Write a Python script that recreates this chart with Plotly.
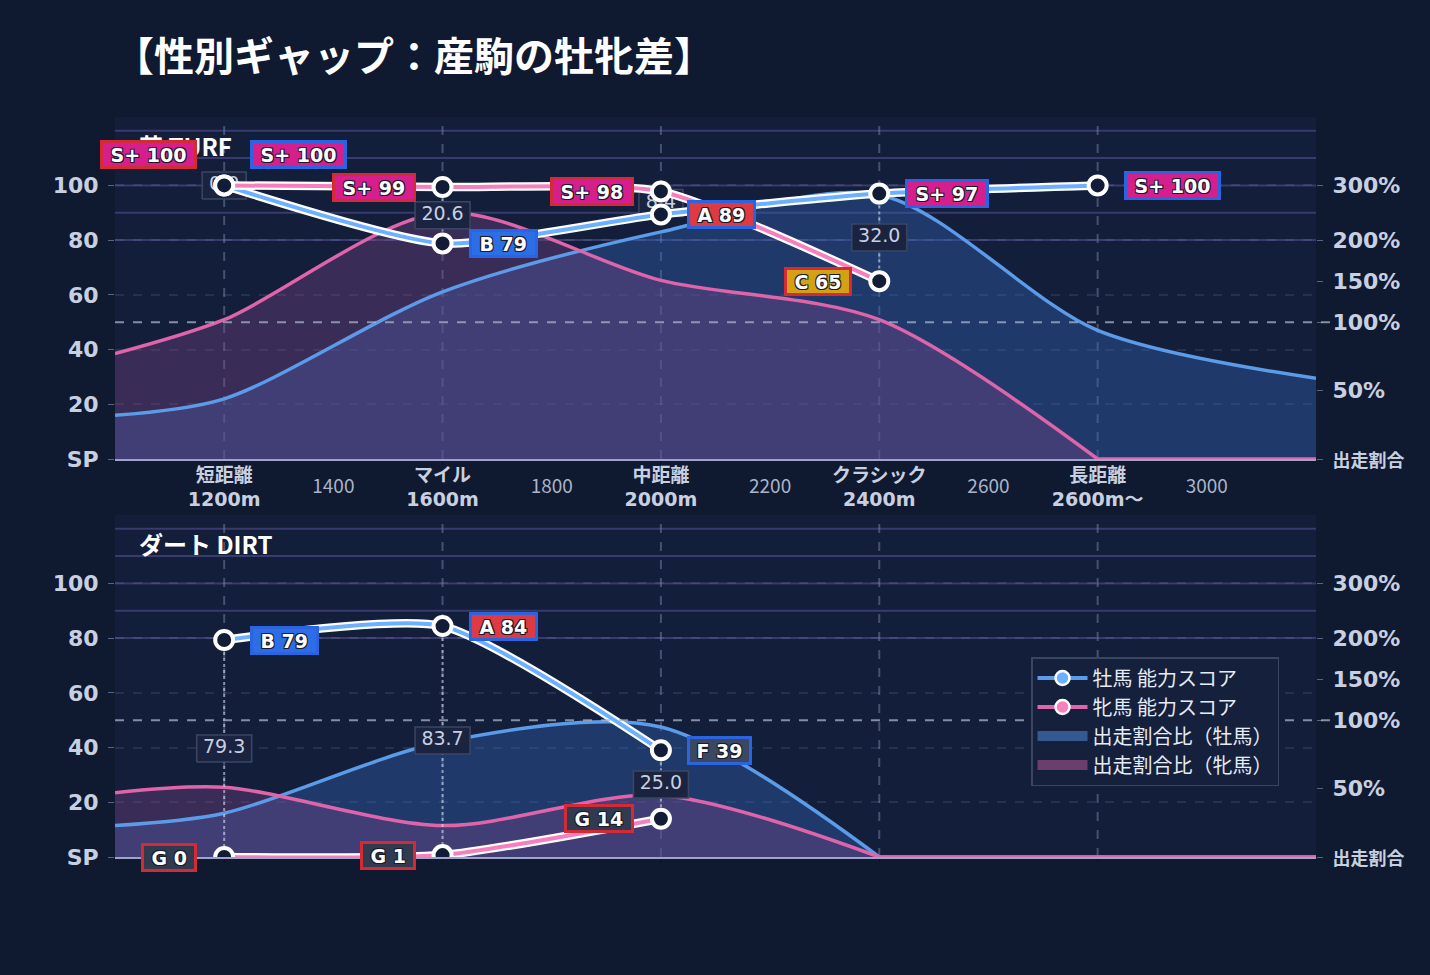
import numpy as np
import plotly.graph_objects as go

# ---------------- data ----------------
CATEGORIES = [1200, 1600, 2000, 2400, 2800]
CAT_NAMES = ["短距離", "マイル", "中距離", "クラシック", "長距離"]
CAT_DIST = ["1200m", "1600m", "2000m", "2400m", "2600m～"]
NUM_TICKS = [1400, 1800, 2200, 2600, 3000]

SHARE_X = [1000, 1200, 1600, 2000, 2400, 2800, 3200]
TURF_MALE_SHARE = [32, 44, 137, 215, 283, 94, 59]
TURF_FEMALE_SHARE = [77, 103, 250, 151, 103, 0, 0]
DIRT_MALE_SHARE = [23, 32, 84, 95, 0, 0, 0]
DIRT_FEMALE_SHARE = [47, 51, 23, 45, 0, 0, 0]

TURF_MALE_SCORE = [100.0, 78.8, 89.4, 97.0, 100.0]
TURF_FEMALE_SCORE = [100.0, 99.4, 97.8, 65.0, None]
DIRT_MALE_SCORE = [79.3, 84.4, 39.0, None, None]
DIRT_FEMALE_SCORE = [0.0, 0.7, 14.0, None, None]

SCORE_TICKS = [0, 20, 40, 60, 80, 100]
SCORE_TICK_TEXT = ["SP", "20", "40", "60", "80", "100"]
RATIO_TICKS = [0, 50, 100, 150, 200, 300]
RATIO_TICK_TEXT = ["出走割合", "50%", "100%", "150%", "200%", "300%"]
GRADE_LINES = [80, 90, 100, 110, 120]

TITLE = "【性別ギャップ：産駒の牡牝差】"
PANEL_TITLES = ["芝 TURF", "ダート DIRT"]
LEGEND_NAMES = ["牡馬 能力スコア", "牝馬 能力スコア", "出走割合比（牡馬）", "出走割合比（牝馬）"]

# ---------------- layout constants ----------------
W, H = 1430, 975
X_RANGE = [1000, 3200]
Y_RANGE = [0, 125]
PX_L, PX_R = 115, 1316
PANELS_PX = [(117, 459), (515, 857)]
UX = (X_RANGE[1] - X_RANGE[0]) / (PX_R - PX_L)
UY = (Y_RANGE[1] - Y_RANGE[0]) / (PANELS_PX[0][1] - PANELS_PX[0][0])

PAGE_BG = "#0f1930"
PLOT_BG = "#131e3a"
MALE_LINE = "#6cb0ff"
FEMALE_LINE = "#f77fbe"
MALE_AREA_LINE = "#5b9be8"
FEMALE_AREA_LINE = "#e064aa"
MALE_FILL = "rgba(50,100,180,0.40)"
FEMALE_FILL = "rgba(125,70,135,0.36)"
MALE_BORDER = "#2a64e0"
FEMALE_BORDER = "#d42a36"
GRADE_COLORS = {"S+": "#d41f8c", "S": "#b02cc0", "A": "#de3a44", "B": "#2c6ee6",
                 "C": "#d4a014", "D": "#8a8a30", "E": "#5a6a40", "F": "#3a4862", "G": "#303a50"}
TEXT_SHADOW = "-1px -1px 0 #1a1a2a, 1px -1px 0 #1a1a2a, -1px 1px 0 #1a1a2a, 1px 1px 0 #1a1a2a"
LATIN = "DejaVu Sans, Noto Sans CJK JP, sans-serif"
CJK = "Noto Sans CJK JP, sans-serif"


def ratio_to_axis(r):
    return float(np.interp(r, [0, 100, 200, 300], [0, 50, 80, 100]))


def grade(s):
    r = round(s)
    for th, g in [(95, "S+"), (90, "S"), (80, "A"), (70, "B"), (60, "C"), (50, "D"), (40, "E"), (30, "F")]:
        if r >= th:
            return g
    return "G"


CHAR_W = {"S": .72, "+": .838, " ": .348, "A": .774, "B": .762, "C": .734, "D": .83,
          "E": .683, "F": .575, "G": .821}


def label_width(text, size=19):
    return sum(CHAR_W.get(ch, .696) for ch in text) * size + 15


fig = go.Figure()

panels = [
    dict(xa="x", ya="y", yr="y2", ms=TURF_MALE_SHARE, fs=TURF_FEMALE_SHARE,
         msc=TURF_MALE_SCORE, fsc=TURF_FEMALE_SCORE),
    dict(xa="x2", ya="y3", yr="y4", ms=DIRT_MALE_SHARE, fs=DIRT_FEMALE_SHARE,
         msc=DIRT_MALE_SCORE, fsc=DIRT_FEMALE_SCORE),
]

annotations = []
shapes = []


def split_zero_tail(ys):
    k = len(ys)
    while k > 1 and ys[k - 1] == 0 and ys[k - 2] == 0:
        k -= 1
    return k


for p in panels:
    xa, ya = p["xa"], p["ya"]
    common = dict(xaxis=xa, yaxis=ya, showlegend=False, hoverinfo="skip")
    series = [(p["ms"], MALE_AREA_LINE, MALE_FILL), (p["fs"], FEMALE_AREA_LINE, FEMALE_FILL)]
    # share area fills first
    for share, lc, fc in series:
        ys = [ratio_to_axis(v) for v in share]
        k = split_zero_tail(ys)
        fig.add_trace(go.Scatter(x=SHARE_X[:k], y=ys[:k], mode="lines",
                                 line=dict(color=fc, width=0, shape="spline", smoothing=0.85),
                                 fill="tozeroy", fillcolor=fc, **common))
    # share lines on top of both fills
    for share, lc, fc in series:
        ys = [ratio_to_axis(v) for v in share]
        k = split_zero_tail(ys)
        fig.add_trace(go.Scatter(x=SHARE_X[:k], y=ys[:k], mode="lines",
                                 line=dict(color=lc, width=3.5, shape="spline", smoothing=0.85), **common))
        if k < len(ys):
            fig.add_trace(go.Scatter(x=SHARE_X[k - 1:], y=ys[k - 1:], mode="lines",
                                     line=dict(color=lc, width=3.5), **common))

    # gap connectors, boxes, texts
    pairs = [(c, m, f) for c, m, f in zip(CATEGORIES, p["msc"], p["fsc"]) if m is not None and f is not None]
    for c, m, f in pairs:
        fig.add_trace(go.Scatter(x=[c, c], y=[m, f], mode="lines",
                                 line=dict(color="rgba(215,222,240,0.6)", width=2, dash="dot"), **common))
    for c, m, f in pairs:
        mid = (m + f) / 2
        txt = f"{abs(m - f):.1f}"
        hw = (11 * len(txt) + 11) / 2 * UX
        hh = 13.5 * UY
        fig.add_trace(go.Scatter(x=[c - hw, c + hw, c + hw, c - hw, c - hw],
                                 y=[mid - hh, mid - hh, mid + hh, mid + hh, mid - hh],
                                 mode="lines", fill="toself", fillcolor="#1a2440",
                                 line=dict(color="#3a4662", width=1.5), **common))
    fig.add_trace(go.Scatter(x=[c for c, m, f in pairs], y=[(m + f) / 2 for c, m, f in pairs],
                             text=[f"{abs(m - f):.1f}" for c, m, f in pairs], mode="text",
                             textposition="middle center",
                             textfont=dict(family=LATIN, size=19, color="#c8d0e0"), **common))

    # score lines
    for scores, col in [(p["msc"], MALE_LINE), (p["fsc"], FEMALE_LINE)]:
        xs = [c for c, s in zip(CATEGORIES, scores) if s is not None]
        ys = [s for s in scores if s is not None]
        fig.add_trace(go.Scatter(x=xs, y=ys, mode="lines",
                                 line=dict(color="white", width=8.5, shape="spline", smoothing=0.6), **common))
        fig.add_trace(go.Scatter(x=xs, y=ys, mode="lines",
                                 line=dict(color=col, width=4, shape="spline", smoothing=0.6), **common))
    for scores in [p["msc"], p["fsc"]]:
        xs = [c for c, s in zip(CATEGORIES, scores) if s is not None]
        ys = [s for s in scores if s is not None]
        fig.add_trace(go.Scatter(x=xs, y=ys, mode="markers",
                                 marker=dict(size=18, color="#121c36", line=dict(color="white", width=4)),
                                 **common))

    # dummy for right axis
    fig.add_trace(go.Scatter(x=[None], y=[None], xaxis=xa, yaxis=p["yr"], showlegend=False, hoverinfo="skip"))

    # labels
    for c, m, f in zip(CATEGORIES, p["msc"], p["fsc"]):
        overlap = m is not None and f is not None and abs(m - f) < 1
        for s, sex in [(f, "f"), (m, "m")]:
            if s is None:
                continue
            g = grade(s)
            txt = f"{g} {round(s)}"
            annotations.append(dict(
                x=c, y=s, xref=xa, yref=ya, text=f"<b>{txt}</b>", showarrow=False,
                xanchor="right" if sex == "f" else "left",
                xshift=-27 if sex == "f" else 26, yshift=31 if overlap else 0,
                font=dict(family=LATIN, size=19, color="white", shadow=TEXT_SHADOW),
                bgcolor=GRADE_COLORS[g], bordercolor=FEMALE_BORDER if sex == "f" else MALE_BORDER,
                borderwidth=3, borderpad=0, width=label_width(txt), height=23, align="center"))

    # shapes: grade lines, category lines, 100% line
    for gl in GRADE_LINES:
        shapes.append(dict(type="line", xref=f"{xa} domain", yref=ya, x0=0, x1=1, y0=gl, y1=gl,
                           line=dict(color="rgba(95,85,160,0.5)", width=2), layer="below"))
    for c in CATEGORIES:
        shapes.append(dict(type="line", xref=xa, yref=f"{ya} domain", x0=c, x1=c, y0=0, y1=1,
                           line=dict(color="rgba(120,132,165,0.5)", width=2, dash="dash"), layer="below"))
    shapes.append(dict(type="line", xref=f"{xa} domain", yref=ya, x0=0, x1=1.012,
                       y0=ratio_to_axis(100), y1=ratio_to_axis(100),
                       line=dict(color="rgba(170,180,200,0.75)", width=2, dash="dash"), layer="above"))

# number tick axis dummy
fig.add_trace(go.Scatter(x=[None], y=[None], xaxis="x3", yaxis="y", showlegend=False, hoverinfo="skip"))

# legend entries
fig.add_trace(go.Scatter(x=[None], y=[None], mode="lines+markers", name=LEGEND_NAMES[0],
                         line=dict(color=MALE_AREA_LINE, width=4),
                         marker=dict(size=14, color=MALE_LINE, line=dict(color="white", width=2.5))))
fig.add_trace(go.Scatter(x=[None], y=[None], mode="lines+markers", name=LEGEND_NAMES[1],
                         line=dict(color=FEMALE_AREA_LINE, width=4),
                         marker=dict(size=14, color=FEMALE_LINE, line=dict(color="white", width=2.5))))
fig.add_trace(go.Scatter(x=[None], y=[None], mode="lines", name=LEGEND_NAMES[2],
                         line=dict(color="#34588f", width=14)))
fig.add_trace(go.Scatter(x=[None], y=[None], mode="lines", name=LEGEND_NAMES[3],
                         line=dict(color="#6a3f6e", width=14)))

x_dom = [PX_L / W, PX_R / W]


def ydom(top, bot):
    return [1 - bot / H, 1 - top / H]


left_tick_text = [f"<b>{t}</b>" for t in SCORE_TICK_TEXT]
right_tick_text = [f"<b><span style='font-size:18px'>{t}</span></b>" if i == 0 else f"<b>{t}</b>"
                   for i, t in enumerate(RATIO_TICK_TEXT)]
right_tick_vals = [ratio_to_axis(r) for r in RATIO_TICKS]

yleft = dict(range=Y_RANGE, tickvals=SCORE_TICKS, ticktext=left_tick_text, showgrid=True,
             gridcolor="rgba(140,150,190,0.16)", griddash="dash", gridwidth=1.5, zeroline=False,
             ticks="outside", ticklen=6, tickcolor="#5a6480", showline=False, automargin=False,
             ticklabelstandoff=5,
             tickfont=dict(family=LATIN, size=22, color="#c8d0e0"), fixedrange=True)
yright = dict(range=Y_RANGE, tickvals=right_tick_vals, ticktext=right_tick_text, showgrid=False,
              zeroline=False, side="right", ticks="outside", ticklen=6, tickcolor="#5a6480",
              automargin=False, ticklabelstandoff=5,
              tickfont=dict(family=LATIN, size=22, color="#c8d0e0"), fixedrange=True)

cat_text = [f"<b>{n}<br>{d}</b>" for n, d in zip(CAT_NAMES, CAT_DIST)]

fig.update_layout(
    width=W, height=H, paper_bgcolor=PAGE_BG, plot_bgcolor=PLOT_BG,
    margin=dict(l=0, r=0, t=0, b=0, autoexpand=False), hovermode=False,
    xaxis=dict(domain=x_dom, range=X_RANGE, anchor="y", tickvals=CATEGORIES, ticktext=cat_text,
               showgrid=False, zeroline=False, showline=True, linecolor="#9ea4c8", linewidth=1.5,
               ticks="outside", ticklen=4, tickcolor="#0b1222", automargin=False,
               ticklabelstandoff=-6,
               tickfont=dict(family=LATIN, size=19, color="#c8d0e0")),
    xaxis3=dict(range=X_RANGE, overlaying="x", anchor="y", side="bottom", tickvals=NUM_TICKS,
                ticktext=[str(t) for t in NUM_TICKS], showgrid=False, zeroline=False, showline=False,
                ticks="", ticklabelstandoff=14, automargin=False,
                tickfont=dict(family=CJK, size=19, color="#aab4c8")),
    xaxis2=dict(domain=x_dom, range=X_RANGE, anchor="y3", tickvals=CATEGORIES, showticklabels=False,
                showgrid=False, zeroline=False, showline=True, linecolor="#9ea4c8", linewidth=1.5,
                ticks="outside", ticklen=4, tickcolor="#0b1222", automargin=False),
    yaxis=dict(domain=ydom(*PANELS_PX[0]), anchor="x", **yleft),
    yaxis2=dict(overlaying="y", anchor="x", **yright),
    yaxis3=dict(domain=ydom(*PANELS_PX[1]), anchor="x2", **yleft),
    yaxis4=dict(overlaying="y3", anchor="x2", **yright),
    legend=dict(x=1031 / W, y=1 - 657 / H, xanchor="left", yanchor="top",
                bgcolor="#15203c", bordercolor="#3a4560", borderwidth=1.5,
                font=dict(family=CJK, size=20, color="#e6ebf5"), itemwidth=50, tracegroupgap=0),
    shapes=shapes,
)

annotations = [
    dict(text=f"<b>{TITLE}</b>", x=112 / W, y=1 - 54 / H, xref="paper", yref="paper",
         xanchor="left", yanchor="middle", showarrow=False,
         font=dict(family=CJK, size=40, color="white")),
    dict(text=f"<b>{PANEL_TITLES[0]}</b>", x=137 / W, y=1 - 145 / H, xref="paper", yref="paper",
         xanchor="left", yanchor="middle", showarrow=False,
         font=dict(family=CJK, size=24, color="white")),
    dict(text=f"<b>{PANEL_TITLES[1]}</b>", x=137 / W, y=1 - 543 / H, xref="paper", yref="paper",
         xanchor="left", yanchor="middle", showarrow=False,
         font=dict(family=CJK, size=24, color="white")),
] + annotations
fig.update_layout(annotations=annotations)

fig.write_html("out.html")
